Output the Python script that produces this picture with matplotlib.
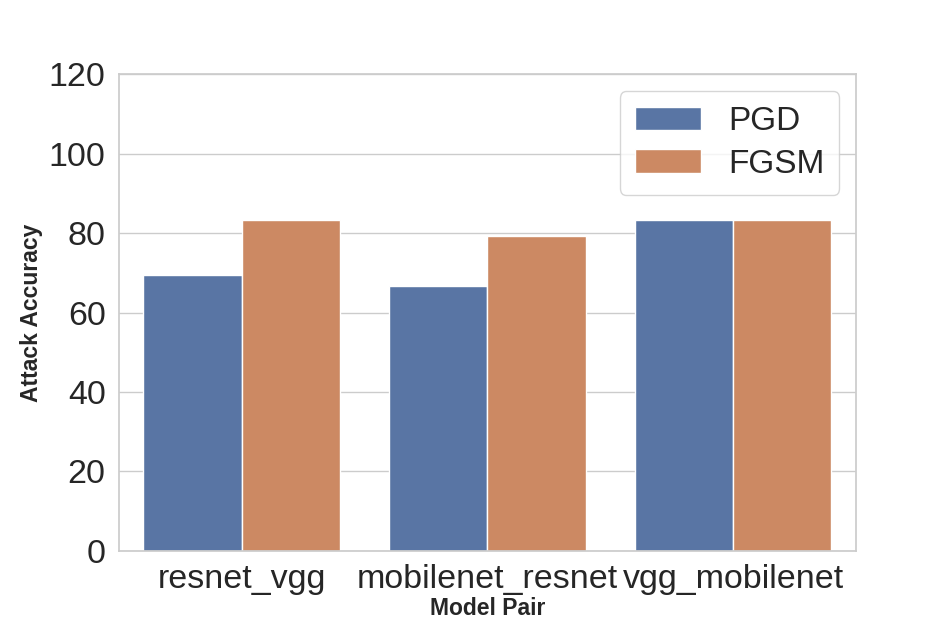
import matplotlib
matplotlib.use("Agg")
import matplotlib.pyplot as plt
import pandas as pd
import seaborn as sns

pairs = ["resnet_vgg", "mobilenet_resnet", "vgg_mobilenet"]
pgd_acc = [69.44, 66.67, 83.33]
fgsm_acc = [83.33, 79.17, 83.33]

df = pd.DataFrame({
    "Model Pair": pairs * 2,
    "Attack Accuracy": pgd_acc + fgsm_acc,
    "Attack": ["PGD"] * 3 + ["FGSM"] * 3,
})

sns.set_theme(style="whitegrid")
plt.rcParams["font.family"] = ["Liberation Sans", "DejaVu Sans"]

fig, ax = plt.subplots(figsize=(9.51, 6.19), dpi=100)
sns.barplot(data=df, x="Model Pair", y="Attack Accuracy", hue="Attack",
            ax=ax, errorbar=None)

ax.set_ylim(0, 120)
ax.tick_params(axis="both", labelsize=24.5)
ax.set_xlabel("Model Pair", fontsize=16.5, fontweight="bold", labelpad=1.5)
ax.set_ylabel("Attack Accuracy", fontsize=16.5, fontweight="bold")
ax.legend(loc="upper right", fontsize=24, borderpad=0.45, labelspacing=0.35)

fig.savefig("out.png", dpi=100)
